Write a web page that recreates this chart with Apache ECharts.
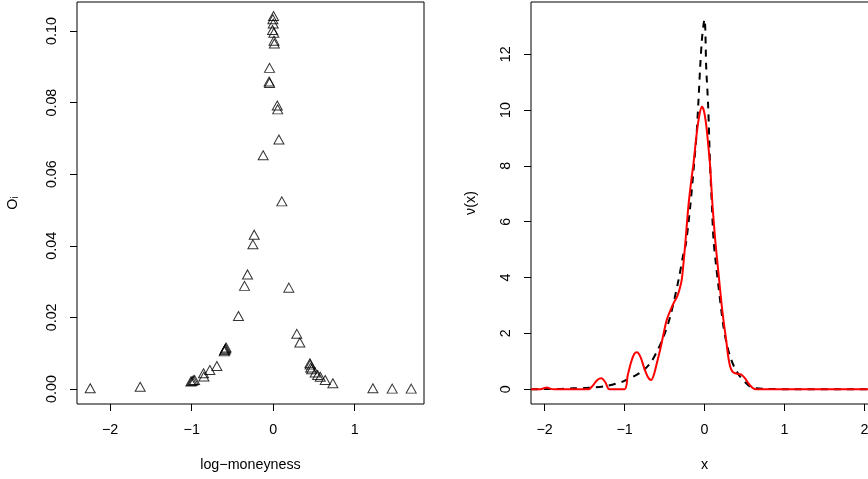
<!DOCTYPE html>
<html>
<head>
<meta charset="utf-8">
<script src="https://cdn.jsdelivr.net/npm/echarts@6/dist/echarts.min.js"></script>
<style>
  html, body { margin: 0; padding: 0; background: #fff; overflow: hidden; }
  /* a bit wider than the window: the right panel's box runs past the edge */
  #chart { width: 880px; height: 479px; }
</style>
</head>
<body>
<div id="chart"></div>
<script>
// left panel: observed O_i against log-moneyness
const moneyness = [-2.245, -1.632, -1.01, -0.995, -0.98, -0.965, -0.855, -0.85, -0.777, -0.691,
  -0.60, -0.595, -0.59, -0.585, -0.578, -0.426, -0.352, -0.315, -0.249, -0.233,
  -0.123, -0.045, -0.05, -0.045, 0.004, -0.004, 0.0, -0.008, 0.008, 0.01,
  0.014, 0.05, 0.055, 0.07, 0.106, 0.192, 0.29, 0.327, 0.45, 0.455,
  0.46, 0.47, 0.515, 0.545, 0.577, 0.638, 0.732, 1.223, 1.46, 1.693];
const oValues = [0.0002, 0.0006, 0.0021, 0.0022, 0.0024, 0.0025, 0.0044, 0.0035, 0.0053, 0.0064,
  0.0105, 0.0108, 0.011, 0.0113, 0.0116, 0.0204, 0.0288, 0.032, 0.0404, 0.0431,
  0.0653, 0.0897, 0.0859, 0.0855, 0.1042, 0.1033, 0.1021, 0.1003, 0.0995, 0.0973,
  0.0965, 0.0792, 0.0781, 0.0697, 0.0524, 0.0283, 0.0154, 0.0130, 0.0072, 0.0068,
  0.006, 0.0055, 0.0046, 0.0039, 0.0034, 0.0025, 0.0016, 0.0002, 0.0001, 0.0001];

// right panel: nu(x), dashed reference and red estimate
const dashX = [-2.17, -1.8, -1.64, -1.45, -1.22, -1.01, -0.8, -0.679, -0.595, -0.512,
  -0.429, -0.325, -0.262, -0.233, -0.18, -0.137, -0.1, -0.075, -0.054, -0.033,
  -0.015, 0, 0.01, 0.021, 0.045, 0.07, 0.092, 0.113, 0.146, 0.175,
  0.237, 0.28, 0.321, 0.38, 0.446, 0.51, 0.571, 0.65, 0.8, 1.0, 2.17];
const dashY = [0, 0.01, 0.03, 0.05, 0.12, 0.29, 0.6, 0.93, 1.35, 1.88,
  2.6, 3.91, 4.87, 5.2, 6.5, 7.85, 9.1, 10.36, 11.55, 12.5,
  13.0, 13.25, 12.9, 11.55, 10.2, 8.0, 6.6, 5.35, 4.4, 3.68,
  2.24, 1.6, 1.17, 0.75, 0.45, 0.25, 0.09, 0.03, 0.01, 0, 0];
const redX = [-2.17, -2.05, -2.0, -1.97, -1.93, -1.88, -1.45, -1.4, -1.34, -1.29,
  -1.24, -1.19, -1.0, -0.96, -0.92, -0.88, -0.845, -0.8, -0.76, -0.71,
  -0.666, -0.63, -0.595, -0.56, -0.533, -0.5, -0.47, -0.43, -0.387, -0.345,
  -0.31, -0.283, -0.241, -0.2, -0.16, -0.137, -0.1, -0.065, -0.033, -0.01,
  0.02, 0.045, 0.071, 0.1, 0.134, 0.175, 0.217, 0.245, 0.271, 0.295,
  0.321, 0.35, 0.384, 0.43, 0.467, 0.51, 0.55, 0.6, 0.634, 1.0, 2.17];
const redY = [0, 0, 0.04, 0.06, 0.02, 0, 0, 0.12, 0.33, 0.39,
  0.25, 0, 0, 0.5, 0.95, 1.25, 1.32, 1.15, 0.81, 0.45,
  0.33, 0.55, 0.95, 1.35, 1.7, 2.15, 2.5, 2.8, 3.08, 3.3,
  3.6, 3.95, 5.2, 6.6, 7.6, 8.1, 9.1, 9.8, 10.12, 10.0,
  9.5, 8.8, 7.97, 6.6, 5.35, 4.15, 2.96, 2.3, 1.77, 1.2,
  0.81, 0.63, 0.57, 0.54, 0.51, 0.38, 0.21, 0.05, 0, 0, 0];

const leftXTicks = [-2, -1, 0, 1];
const leftYTicks = [0, 0.02, 0.04, 0.06, 0.08, 0.1];
const rightXTicks = [-2, -1, 0, 1, 2];
const rightYTicks = [0, 2, 4, 6, 8, 10, 12];

const FONT = '"Liberation Sans", Arial, sans-serif';
const FONT_SIZE = 14.3;
const minus = (v) => String(v).replace('-', '\u2212');

const xAxisBase = (ticks, labelFmt) => ({
  type: 'value',
  axisLine: { show: false, onZero: false },
  axisTick: { show: true, length: 7, lineStyle: { color: '#000' }, customValues: ticks },
  axisLabel: {
    margin: 19, color: '#000', fontSize: FONT_SIZE, fontFamily: FONT,
    customValues: ticks, formatter: labelFmt,
  },
  splitLine: { show: false },
  nameLocation: 'middle',
  nameGap: 54,
  nameTextStyle: { color: '#000', fontSize: FONT_SIZE, fontFamily: FONT },
});

const yAxisBase = (ticks, labelFmt) => ({
  type: 'value',
  axisLine: { show: false, onZero: false },
  axisTick: { show: true, length: 7, lineStyle: { color: '#000' }, customValues: ticks },
  axisLabel: {
    margin: 18, rotate: 90, color: '#000', fontSize: FONT_SIZE, fontFamily: FONT,
    customValues: ticks, formatter: labelFmt,
  },
  splitLine: { show: false },
  nameLocation: 'middle',
  nameTextStyle: { color: '#000', fontSize: FONT_SIZE, fontFamily: FONT },
});

const chart = echarts.init(document.getElementById('chart'));

const option = {
  backgroundColor: '#fff',
  animation: false,
  grid: [
    { left: 77, top: 2, width: 347, height: 402, show: true, borderColor: '#000', borderWidth: 1 },
    { left: 531, top: 2, width: 347, height: 402, show: true, borderColor: '#000', borderWidth: 1 },
  ],
  xAxis: [
    {
      ...xAxisBase(leftXTicks, (v) => minus(v)),
      gridIndex: 0, min: -2.407, max: 1.85, name: 'log\u2212moneyness',
    },
    {
      ...xAxisBase(rightXTicks, (v) => minus(v)),
      gridIndex: 1, min: -2.17, max: 2.17, name: 'x',
    },
  ],
  yAxis: [
    {
      ...yAxisBase(leftYTicks, (v) => v.toFixed(2)),
      gridIndex: 0, min: -0.0042, max: 0.1081, name: 'O\u1d62', nameGap: 57,
    },
    {
      ...yAxisBase(rightYTicks, (v) => String(v)),
      gridIndex: 1, min: -0.53, max: 13.87, name: '\u03bd(x)', nameGap: 53,
    },
  ],
  series: [
    {
      type: 'scatter',
      xAxisIndex: 0,
      yAxisIndex: 0,
      symbol: 'triangle',
      symbolSize: [10, 9],
      itemStyle: { color: 'rgba(0,0,0,0)', borderColor: '#000', borderWidth: 1 },
      data: moneyness.map((x, i) => [x, oValues[i]]),
    },
    {
      type: 'line',
      xAxisIndex: 1,
      yAxisIndex: 1,
      showSymbol: false,
      smooth: 0.3,
      lineStyle: { color: '#000', width: 2, type: [7, 6] },
      data: dashX.map((x, i) => [x, dashY[i]]),
    },
    {
      type: 'line',
      xAxisIndex: 1,
      yAxisIndex: 1,
      showSymbol: false,
      smooth: 0.3,
      lineStyle: { color: '#ff0000', width: 2 },
      data: redX.map((x, i) => [x, redY[i]]),
    },
  ],
};

chart.setOption(option);
</script>
</body>
</html>
